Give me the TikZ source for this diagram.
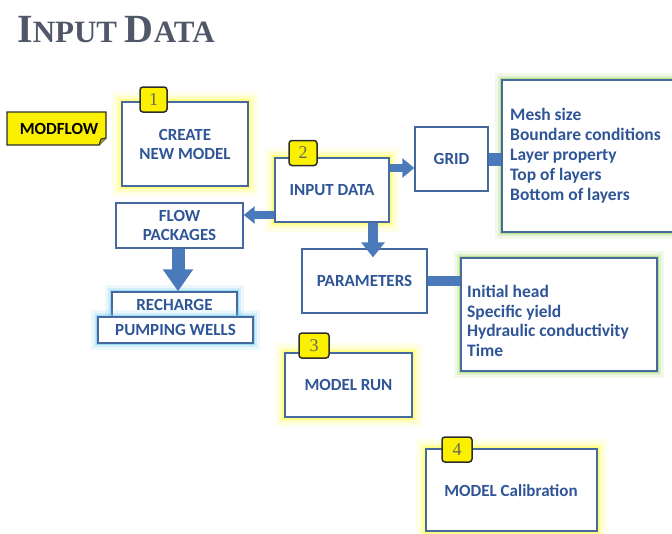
\documentclass[tikz,border=0pt]{standalone}
\usepackage{fontspec}
\setmainfont{Carlito}
\newfontfamily\titlefont{Liberation Serif}
\usetikzlibrary{arrows.meta,calc}
\definecolor{boxblue}{RGB}{70,105,160}
\definecolor{txtblue}{RGB}{47,85,151}
\definecolor{arrblue}{RGB}{74,122,186}
\definecolor{titlecol}{RGB}{80,87,104}
\definecolor{glowyel}{RGB}{255,255,40}
\definecolor{glowgrn}{RGB}{150,210,90}
\definecolor{glowcyan}{RGB}{110,200,240}
\definecolor{modyel}{RGB}{250,240,0}
\begin{document}
\begin{tikzpicture}[x=1pt,y=-1pt,
  box/.style={draw=boxblue, line width=1.4pt, fill=white, inner sep=0pt, align=center,
    text=txtblue, font=\bfseries\fontsize{17}{19}\selectfont},
  glowy/.style={preaction={draw=glowyel,line width=20pt,opacity=0.10},
    preaction={draw=glowyel,line width=12pt,opacity=0.18},
    preaction={draw=glowyel,line width=6pt,opacity=0.4}},
  glowg/.style={preaction={draw=glowgrn,line width=14pt,opacity=0.12},
    preaction={draw=glowgrn,line width=8pt,opacity=0.22},
    preaction={draw=glowgrn,line width=4pt,opacity=0.5}},
  glowc/.style={preaction={draw=glowcyan,line width=14pt,opacity=0.12},
    preaction={draw=glowcyan,line width=8pt,opacity=0.22},
    preaction={draw=glowcyan,line width=4pt,opacity=0.5}},
  listtext/.style={anchor=north west, inner sep=0pt, align=left, text=txtblue,
    font=\bfseries\fontsize{17.5}{20}\selectfont},
  badge/.style={draw=gray!35!black, fill=modyel, rounded corners=3pt, line width=1.5pt,
    minimum width=28pt, minimum height=25pt, inner sep=0pt,
    font=\titlefont\fontsize{18}{18}\selectfont, text=gray!80!black},
  bigarrow/.style={draw=arrblue, line width=#1pt},
]
\useasboundingbox (0,0) rectangle (672,533);
\fill[white] (0,0) rectangle (672,533);

% title
\node[anchor=base west, inner sep=0pt, text=titlecol] (title) at (17,42)
  {\titlefont\bfseries{\fontsize{40}{40}\selectfont I}{\fontsize{31}{31}\selectfont NPUT }{\fontsize{40}{40}\selectfont D}{\fontsize{31}{31}\selectfont ATA}};

% MODFLOW tag with folded corner
\draw[fill=modyel, draw=gray!35!black, line width=1.3pt]
  (7,112) -- (106,112) -- (106,138) -- (99,145) -- (7,145) -- cycle;
\draw[gray!35!black, line width=1pt, fill=modyel!70!black] (106,138) -- (101,139) -- (99,145);
\node[inner sep=0pt, font=\bfseries\fontsize{17}{19}\selectfont, text=black] (modflow) at (59,128.5) {MODFLOW};

% main boxes
\node[box, glowy, minimum width=126pt, minimum height=84pt] (create) at (185,144) {CREATE\\NEW MODEL};
\node[box, glowy, minimum width=114pt, minimum height=64pt] (inputdata) at (332,190) {INPUT DATA};
\node[box, minimum width=73pt, minimum height=64pt] (grid) at (451.5,159) {GRID};
\node[box, glowg, minimum width=190pt, minimum height=152pt] (gridlist) at (597,156) {};
\node[listtext] (gridtext) at (510,108) {Mesh size\\Boundare  conditions\\Layer property\\Top of layers\\Bottom of layers};
\node[box, minimum width=127pt, minimum height=45pt] (flow) at (179.5,225.5) {FLOW\\PACKAGES};
\node[box, minimum width=125pt, minimum height=64pt] (params) at (364.5,281) {PARAMETERS};
\node[box, glowg, minimum width=196pt, minimum height=113pt] (paramlist) at (559,314.5) {};
\node[listtext, font=\bfseries\fontsize{17.5}{19.7}\selectfont] (paramtext) at (467,285) {Initial head\\Specific yield\\Hydraulic  conductivity\\Time};
\node[box, glowc, minimum width=125pt, minimum height=25pt] (recharge) at (174.5,304.5) {RECHARGE};
\node[box, glowc, minimum width=155pt, minimum height=26pt] (pumping) at (175.5,330) {PUMPING WELLS};
\node[box, glowy, minimum width=127pt, minimum height=64pt] (run) at (348.5,385) {MODEL RUN};
\node[box, glowy, minimum width=171pt, minimum height=82pt] (calib) at (511.5,490) {};
\node[inner sep=0pt, text=txtblue, font=\bfseries\fontsize{17}{19}\selectfont] (calibtext) at (511,491) {MODEL Calibration};

% badges
\node[badge, minimum width=27pt] (b1) at (153.5,99.5) {1};
\node[badge] (b2) at (303,153) {2};
\node[badge, minimum width=30pt] (b3) at (314,345.5) {3};
\node[badge, minimum width=30pt] (b4) at (457,449.5) {4};

% connectors
\coordinate (igs) at ($(inputdata.east)+(0,-22)$);
\draw[bigarrow=8, -{Triangle[width=19pt,length=12pt]}] (igs) -- (grid.west |- igs);
\draw[bigarrow=13] (grid.east) -- (grid.east -| gridlist.west);
\coordinate (ifs) at ($(inputdata.west)+(0,25)$);
\draw[bigarrow=8, -{Triangle[width=17pt,length=11pt]}] (ifs) -- (flow.east |- ifs);
\coordinate (ips) at ($(inputdata.south)+(41,0)$);
\coordinate (ipe) at ($(ips |- params.north)+(0,9)$);
\draw[bigarrow=10, -{Triangle[width=23pt,length=15pt]}] (ips) -- (ipe);
\draw[bigarrow=10] (params.east) -- (params.east -| paramlist.west);
\coordinate (frs) at ($(flow.south)+(-1.5,0)$);
\draw[bigarrow=13, -{Triangle[width=29pt,length=22pt]}] (frs) -- (frs |- recharge.north);
\end{tikzpicture}
\end{document}
